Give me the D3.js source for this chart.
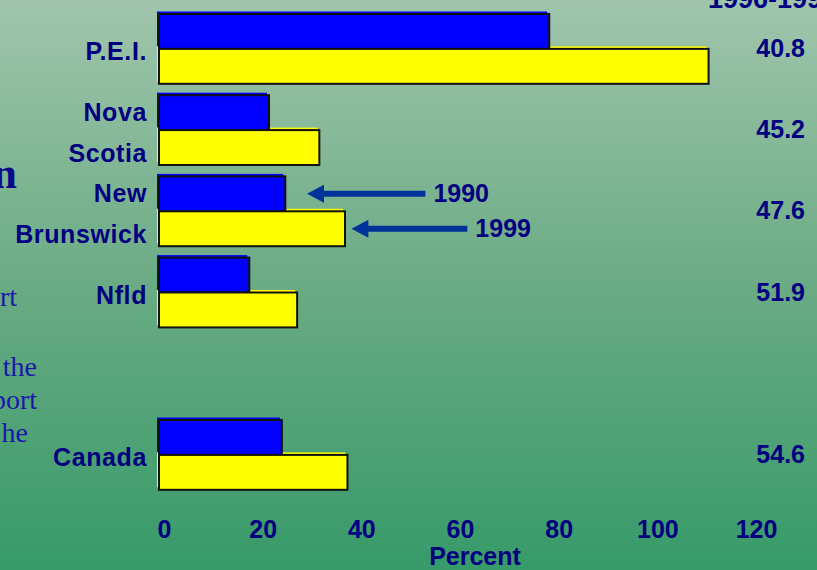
<!DOCTYPE html>
<html>
<head>
<meta charset="utf-8">
<script src="https://cdn.jsdelivr.net/npm/d3@7"></script>
<style>
  html, body { margin: 0; padding: 0; overflow: hidden; }
  svg { display: block; }
</style>
</head>
<body>
<svg id="chart" width="817" height="570"></svg>
<script>
// ---- data ----
const categories = ["P.E.I.", "Nova Scotia", "New Brunswick", "Nfld", "", "Canada"];
const seriesNames = ["1990", "1999"];
const values1990 = [79.1, 22.3, 25.6, 18.3, null, 24.9];
const values1999 = [111.4, 32.5, 37.7, 28.0, null, 38.2];
const rightHeader = "1996-1999";
const rightValues = ["40.8", "45.2", "47.6", "51.9", null, "54.6"];
const xTicks = [0, 20, 40, 60, 80, 100, 120];
const xTitle = "Percent";
const arrowCategory = "New Brunswick";
const arrowTips = [30, 39];     // in percent units
const arrowTails = [54, 62.5];
const sideText = ["rt", "the", "port", "he"];
const sideTitle = "n";

// ---- setup ----
const W = 817, H = 570;
const svg = d3.select("#chart");
const navy = "#000080";
const barColors = ["#0000ff", "#ffff00"];

const defs = svg.append("defs");
const grad = defs.append("linearGradient").attr("id", "bg").attr("x1", 0).attr("y1", 0).attr("x2", 0).attr("y2", 1);
grad.append("stop").attr("offset", "0%").attr("stop-color", "#a0c5ac");
grad.append("stop").attr("offset", "50%").attr("stop-color", "#6aab84");
grad.append("stop").attr("offset", "100%").attr("stop-color", "#379a69");
svg.append("rect").attr("width", W).attr("height", H).attr("fill", "url(#bg)");

const x = d3.scaleLinear().domain([0, 120]).range([159, 751]);
const y = d3.scaleBand().domain(d3.range(categories.length)).range([8.3, 495.5])
  .paddingInner(0.14).paddingOuter(0.07);
const ySub = d3.scaleBand().domain(seriesNames).range([0, y.bandwidth()]);

const rows = categories.map((c, i) => ({ c, i, vals: [values1990[i], values1999[i]], right: rightValues[i] }));
const bars = [];
rows.forEach(r => r.vals.forEach((v, s) => { if (v != null) bars.push({ i: r.i, s, v }); }));

// shadows first
svg.append("g").selectAll("rect").data(bars).join("rect")
  .attr("x", x(0) - 2)
  .attr("y", d => y(d.i) + ySub(seriesNames[d.s]) - 2.5)
  .attr("width", d => x(d.v) - x(0))
  .attr("height", ySub.bandwidth())
  .attr("fill", d => barColors[d.s]);
// outlined bars
svg.append("g").selectAll("rect").data(bars).join("rect")
  .attr("x", x(0))
  .attr("y", d => y(d.i) + ySub(seriesNames[d.s]))
  .attr("width", d => x(d.v) - x(0))
  .attr("height", ySub.bandwidth())
  .attr("fill", d => barColors[d.s])
  .attr("stroke", "#111")
  .attr("stroke-width", 2);

const font = "'Liberation Sans', Arial, sans-serif";

// category labels
const lab = svg.append("g").attr("font-family", font).attr("font-weight", "bold")
  .attr("font-size", 25).attr("fill", navy).attr("text-anchor", "end");
rows.filter(r => r.c).forEach(r => {
  const lines = r.c.split(" ");
  const cy = y(r.i) + y.bandwidth() / 2;
  lines.forEach((ln, k) => {
    lab.append("text").attr("x", 147).attr("y", cy + 11 + (k - (lines.length - 1) / 2) * 41)
      .attr("letter-spacing", "0.6px").text(ln);
  });
});

// right values
const rv = svg.append("g").attr("font-family", font).attr("font-weight", "bold")
  .attr("font-size", 25).attr("fill", navy).attr("text-anchor", "end");
rows.filter(r => r.right).forEach(r => {
  rv.append("text").attr("x", 805).attr("y", y(r.i) + y.bandwidth() / 2 + 8).text(r.right);
});
svg.append("text").attr("x", 708).attr("y", 8).attr("font-family", font).attr("font-weight", "bold")
  .attr("font-size", 27).attr("fill", navy).text(rightHeader);

// x axis (labels only)
const ax = svg.append("g").attr("transform", "translate(0,520)")
  .call(d3.axisBottom(x).tickValues(xTicks).tickSize(0).tickPadding(0).tickFormat(d3.format("d")));
ax.select(".domain").remove();
ax.selectAll("text").attr("font-family", font).attr("font-weight", "bold")
  .attr("font-size", 25).attr("fill", navy).attr("dx", 5);
svg.append("text").attr("x", 475).attr("y", 565).attr("text-anchor", "middle")
  .attr("font-family", font).attr("font-weight", "bold").attr("font-size", 25).attr("fill", navy).text(xTitle);

// arrows
const ai = categories.indexOf(arrowCategory);
const arr = svg.append("g");
seriesNames.forEach((s, k) => {
  const cy = y(ai) + ySub(s) + ySub.bandwidth() / 2;
  const tip = x(arrowTips[k]), tail = x(arrowTails[k]);
  arr.append("line").attr("x1", tip + 12).attr("x2", tail).attr("y1", cy).attr("y2", cy)
    .attr("stroke", "#003399").attr("stroke-width", 6);
  arr.append("path")
    .attr("d", `M${tip},${cy} L${tip + 17},${cy - 9} L${tip + 17},${cy + 9} Z`)
    .attr("fill", "#003399");
  arr.append("text").attr("x", tail + 8).attr("y", cy + 8)
    .attr("font-family", font).attr("font-weight", "bold").attr("font-size", 25).attr("fill", navy).text(s);
});

// clipped side text (serif)
const serif = "'Liberation Serif', 'Times New Roman', serif";
svg.append("text").attr("x", 17).attr("y", 188).attr("text-anchor", "end")
  .attr("font-family", serif).attr("font-weight", "bold").attr("font-size", 44).attr("fill", "#0a0a8c").text(sideTitle);
const sideX = [17, 37, 37, 28];
const sideY = [306, 376, 409, 442];
sideText.forEach((t, k) => {
  svg.append("text").attr("x", sideX[k]).attr("y", sideY[k]).attr("text-anchor", "end")
    .attr("font-family", serif).attr("font-size", 28).attr("fill", "#1818a8").text(t);
});
</script>
</body>
</html>
